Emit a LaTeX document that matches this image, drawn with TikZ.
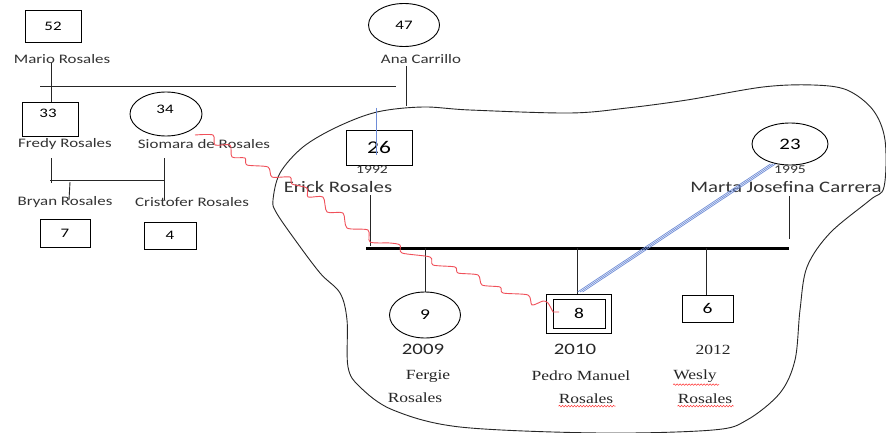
\documentclass[tikz,border=0pt]{standalone}
\usepackage{fontspec}
\setmainfont{Carlito}[FakeStretch=1.3]
\newfontfamily\tnr{Liberation Serif}[FakeStretch=1.25]
\usetikzlibrary{shapes.geometric,decorations.pathmorphing,calc}
\definecolor{bluelnc}{RGB}{110,140,215}
\definecolor{redln}{RGB}{240,80,90}
\tikzset{
  ln/.style={line width=0.9pt, black!85},
  thick line/.style={line width=3pt, black},
  boxnode/.style={draw, line width=0.9pt, inner sep=0pt, font=\fontsize{13}{13}\selectfont},
  ellnode/.style={draw, ellipse, line width=0.9pt, inner sep=0pt, font=\fontsize{13}{13}\selectfont},
  lbl/.style={inner sep=0pt, text=black!80, font=\fontsize{13}{13}\selectfont},
  biglbl/.style={inner sep=0pt, text=black!80, font=\fontsize{16}{16}\selectfont},
  yr/.style={inner sep=0pt, text=black!80, font=\fontsize{12}{12}\selectfont},
  yrb/.style={inner sep=0pt, text=black!85, font=\fontsize{16}{16}\selectfont},
  serif/.style={inner sep=0pt, text=black!85, font=\tnr\fontsize{14}{14}\selectfont},
  spell/.style={red!80, line width=0.5pt, decorate, decoration={snake, amplitude=0.8pt, segment length=3pt}},
  squig/.style={redln, line width=0.9pt},
  blueln/.style={bluelnc, line width=0.9pt}
}
\begin{document}
\begin{tikzpicture}[x=1pt,y=-1pt]
\useasboundingbox (0,0) rectangle (886,433);
\fill[white] (0,0) rectangle (886,433);

% cloud
\draw[ln] plot[smooth cycle, tension=0.55] coordinates {
 (273,200) (280,173) (303,147) (337,127) (377,112) (423,107) (470,110) (570,113)
 (627,108) (687,100) (763,87) (813,85) (847,90) (873,110) (885,140) (884,187)
 (870,200) (830,233) (807,267) (800,310) (795,360) (780,393) (747,420) (713,430)
 (600,433) (460,427) (393,410) (360,387) (348,367) (347,320) (340,293) (320,273)
 (293,237) (276,212)};

% left family
\node[boxnode, minimum width=56, minimum height=32] (b52) at (53,26) {52};
\node[lbl] (mario) at (62,59) {Mario Rosales};
\node[ellnode, minimum width=71, minimum height=43] (c47) at (404,25) {47};
\node[lbl] (ana) at (421,59) {Ana Carrillo};

\coordinate (hl) at (40,86);
\coordinate (hr) at (396,86);
\draw[ln] (hl) -- (hr);

\node[boxnode, minimum width=56, minimum height=34] (b33) at (50,119) {};
\node[inner sep=0pt, font=\fontsize{13}{13}\selectfont] (t33) at (48,113) {33};
\node[ellnode, minimum width=72, minimum height=44] (c34) at (166,114) {};
\node[inner sep=0pt, font=\fontsize{13}{13}\selectfont] (t34) at (165,109) {34};
\node[lbl] (fredy) at (65,144) {Fredy Rosales};
\node[lbl] (siomara) at (204,144) {Siomara de Rosales};

\coordinate (m1) at (51,63);
\draw[ln] (m1) -- (b33.north -| m1);
\coordinate (a1) at (406,66);
\coordinate (a2) at (406,106);
\draw[ln] (a1) -- (a2);

\coordinate (f1) at (51,158);
\coordinate (f2) at (51,183);
\coordinate (h2l) at (50,180);
\coordinate (h2r) at (165,180);
\coordinate (s1) at (164,158);
\coordinate (s2) at (164,200);
\coordinate (br1) at (70,182);
\coordinate (br2) at (69,200);
\draw[ln] (f1) -- (f2);
\draw[ln] (h2l) -- (h2r);
\draw[ln] (s1) -- (s2);
\draw[ln] (br1) -- (br2);

\node[lbl] (bryan) at (65,202) {Bryan Rosales};
\node[lbl] (cris) at (192,202) {Cristofer Rosales};
\node[boxnode, minimum width=50, minimum height=28] (b7) at (65,233) {7};
\node[boxnode, minimum width=52, minimum height=27] (b4) at (170,235.5) {4};

% right family
\node[boxnode, minimum width=66, minimum height=35, font=\fontsize{18}{18}\selectfont] (b26) at (379,147.5) {26};
\node[yr] (y1992) at (372,170) {1992};
\node[biglbl] (erick) at (338,187) {Erick Rosales};
\node[ellnode, minimum width=76, minimum height=42, font=\fontsize{16}{16}\selectfont] (c23) at (790,144) {23};
\node[yr] (y1995) at (790,170) {1995};
\node[biglbl] (marta) at (786,187) {Marta Josefina Carrera};

\coordinate (e1) at (370,195);
\coordinate (e2) at (370,246);
\draw[ln] (e1) -- (e2);
\coordinate (mt1) at (789,196);
\coordinate (mt2) at (789,239);
\draw[ln] (mt1) -- (mt2);
\coordinate (tl) at (366,248);
\coordinate (tr) at (789,248);
\draw[thick line] (tl) -- (tr);

\node[ellnode, minimum width=71, minimum height=46, font=\fontsize{15}{15}\selectfont] (c9) at (425,315) {9};
\node[draw, line width=0.9pt, minimum width=65, minimum height=39, inner sep=0pt] (b8o) at (578.5,313.5) {};
\node[boxnode, minimum width=52, minimum height=29, font=\fontsize{15}{15}\selectfont] (b8) at (579,313.5) {8};
\node[boxnode, minimum width=51, minimum height=27, font=\fontsize{15}{15}\selectfont] (b6) at (707.5,308.5) {6};

\draw[ln] (c9.north |- tl) -- (c9.north);
\coordinate (k8) at (577,248);
\coordinate (k6) at (706,248);
\draw[ln] (k8) -- (k8 |- b8o.north);
\draw[ln] (k6) -- (k6 |- b6.north);

\node[yrb] (y2009) at (423,349) {2009};
\node[yrb] (y2010) at (575,349) {2010};
\node[serif] (y2012) at (713,350) {2012};
\node[serif] (fergie) at (428,376) {Fergie};
\node[serif] (fros) at (415,398) {Rosales};
\node[serif] (pedro) at (581,376) {Pedro Manuel};
\node[serif] (pros) at (586,399) {Rosales};
\node[serif] (wesly) at (695,376) {Wesly};
\node[serif] (wros) at (705,399) {Rosales};

% spellcheck underlines
\draw[spell] ($(wesly.south west)+(0,2)$) -- ++(46,0);
\draw[spell] ($(wros.south west)+(0,2)$) -- ++(56,0);
\draw[spell] ($(pros.south west)+(0,2)$) -- ++(57,0);

% red staircase squiggle from Siomara to Pedro
\coordinate (r0) at (195,135);
\coordinate (r3) at (559,312);
\draw[squig] plot[smooth, tension=0.45] coordinates {
 (r0) (213,135) (215,145) (230,145) (232,157) (245,158) (247,165) (268,167)
 (272,177) (290,177) (292,184) (307,188) (308,197) (323,197) (327,212) (343,213)
 (347,228) (368,230) (370,242) (390,243) (400,245) (402,253) (430,257) (433,265)
 (455,267) (458,273) (478,275) (482,285) (500,287) (503,293) (528,295) (532,305)
 (543,301) (548,303) (553,312)} -- (r3);

% blue lines
\coordinate (bl1) at (376,108);
\coordinate (bl2) at (376,155);
\draw[blueln] (bl1) -- (bl2);
\coordinate (bt) at (773,164);
\coordinate (bb) at (580,292);
\foreach \d in {-2.5,0,2.5}
  \draw[blueln, line width=0.7pt] ($(bt)+(\d,0)$) -- ($(bb)+(\d,0)$);
\end{tikzpicture}
\end{document}
